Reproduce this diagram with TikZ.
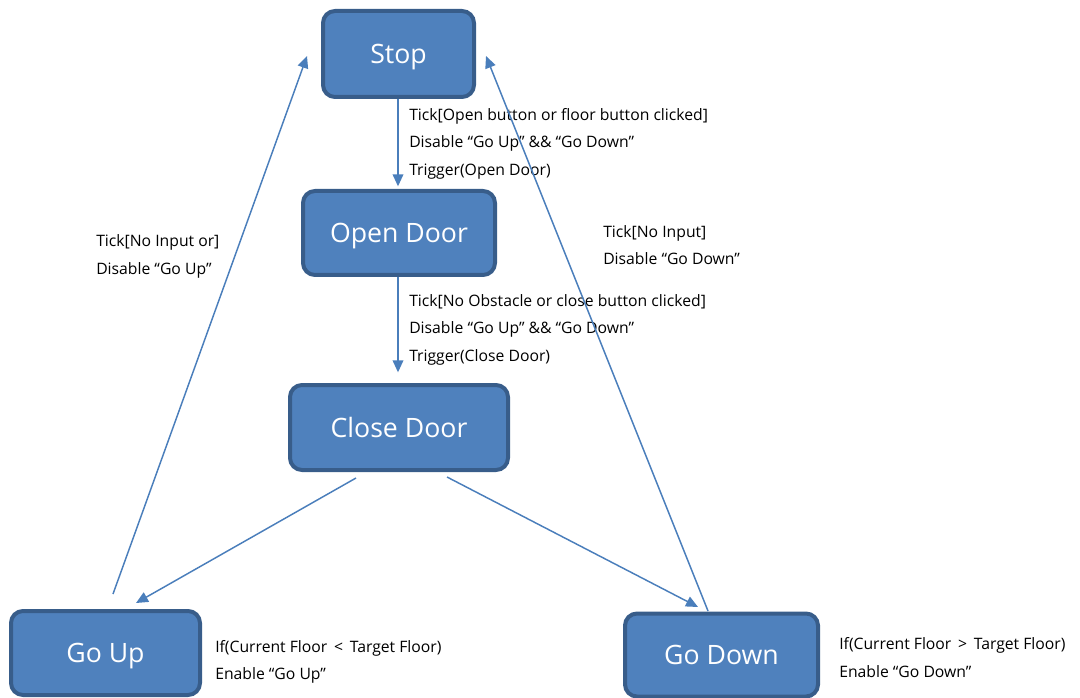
\documentclass[tikz,border=0pt]{standalone}
\usepackage{fontspec}
\setmainfont{Open Sans}
\usetikzlibrary{arrows.meta}
\definecolor{boxfill}{HTML}{4F81BD}
\definecolor{boxline}{HTML}{385D8A}
\definecolor{arr}{HTML}{4A7EBB}
\begin{document}
\begin{tikzpicture}[x=0.75pt,y=-0.75pt,
 state/.style={draw=boxline, fill=boxfill, line width=3pt, rounded corners=9pt, text=white, font=\fontsize{20}{24}\selectfont, inner sep=0pt, text height=14.3pt, text depth=0pt},
 conn/.style={draw=arr, line width=1.1pt, -{Triangle[length=9pt,width=8pt]}},
 lbl/.style={font=\fontsize{11.8}{20.6}\selectfont, align=left, anchor=west, inner sep=0pt, text=black}]
\useasboundingbox (0,0) rectangle (1080,698);
\node[state, minimum width=113.25pt, minimum height=64.5pt] (stop) at (398.5,54) {Stop};
\node[state, minimum width=144pt, minimum height=63pt] (open) at (399,233) {Open Door};
\node[state, minimum width=163.5pt, minimum height=63.75pt] (close) at (399,427.5) {Close Door};
\node[state, minimum width=141.75pt, minimum height=63pt] (up) at (105.5,653) {Go Up};
\node[state, minimum width=144.75pt, minimum height=62.25pt] (down) at (721.5,655) {Go Down};

\coordinate (cu1) at (356,478); \coordinate (cu2) at (136,603);
\coordinate (cd1) at (447,477); \coordinate (cd2) at (698,607);
\coordinate (us1) at (113,594); \coordinate (us2) at (307,56);
\coordinate (ds1) at (708,611); \coordinate (ds2) at (486,56);

\node[lbl] (l1) at (409,143.5) {Tick[Open button or floor button clicked]\\Disable “Go Up” \&\& “Go Down”\\Trigger(Open Door)};
\node[lbl] (l2) at (409,329.5) {Tick[No Obstacle or close button clicked]\\Disable “Go Up” \&\& “Go Down”\\Trigger(Close Door)};
\node[lbl] (l3) at (96,256.5) {Tick[No Input or]\\Disable “Go Up”};
\node[lbl] (l4) at (603,245) {Tick[No Input]\\Disable “Go Down”};
\node[lbl] (l5) at (215,662) {If(Current Floor {\,}<{\,} Target Floor)\\Enable “Go Up”};
\node[lbl] (l6) at (839,657.5) {If(Current Floor {\,}>{\,} Target Floor)\\Enable “Go Down”};

\draw[conn, shorten >=2pt] (stop.south -| 398,0) -- (open.north -| 398,0);
\draw[conn, shorten >=8pt] (open.south -| 398,0) -- (close.north -| 398,0);
\draw[conn] (cu1) -- (cu2);
\draw[conn] (cd1) -- (cd2);
\draw[conn] (us1) -- (us2);
\draw[conn] (ds1) -- (ds2);
\end{tikzpicture}
\end{document}
